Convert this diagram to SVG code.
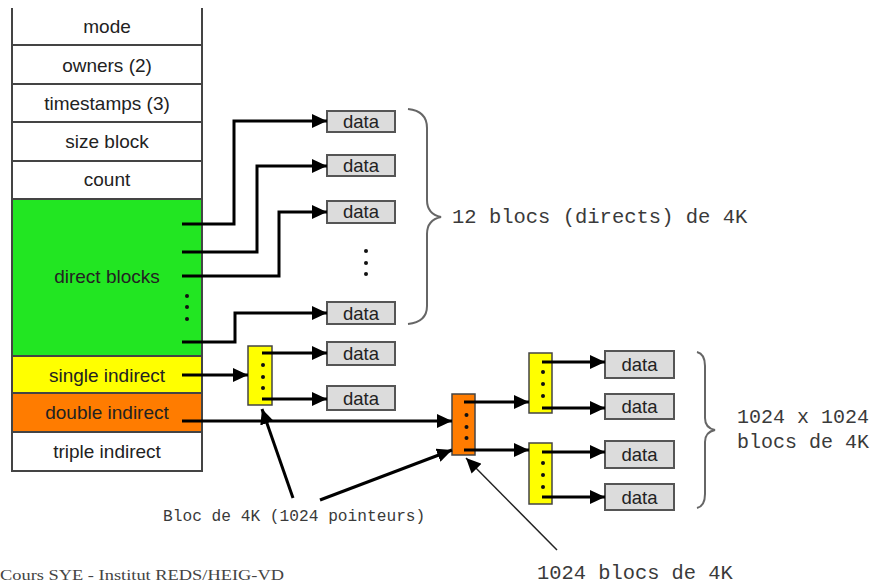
<svg xmlns="http://www.w3.org/2000/svg" width="876" height="584" viewBox="0 0 876 584">
<defs>
<style>
.cell{stroke:#444;stroke-width:2}
.lbl{font-family:"Liberation Sans",Arial,sans-serif;font-size:19px;fill:#222;text-anchor:middle}
.mono{font-family:"Liberation Mono","Courier New",monospace;fill:#3a3a3a}
.data{fill:#dcdcdc;stroke:#555;stroke-width:2}
.dtxt{font-family:"Liberation Sans",Arial,sans-serif;font-size:18.5px;fill:#222;text-anchor:middle}
.blk{stroke:#444;stroke-width:1.5}
.arr{fill:none;stroke:#000;stroke-width:3;marker-end:url(#ah)}
.thin{fill:none;stroke:#222;stroke-width:1.5;marker-end:url(#ah2)}
.brace{fill:none;stroke:#666;stroke-width:2}
.dot{fill:#111}
</style>
<marker id="ah" markerUnits="userSpaceOnUse" markerWidth="16" markerHeight="14" refX="15" refY="7" orient="auto"><path d="M0,0 L15,7 L0,14 z" fill="#000"/></marker>
<marker id="ah2" markerUnits="userSpaceOnUse" markerWidth="16" markerHeight="14" refX="15" refY="7" orient="auto"><path d="M0,0 L15,7 L0,14 z" fill="#000"/></marker>
</defs>
<rect width="876" height="584" fill="#fff"/>

<g id="inode">
<path d="M12,8 V45 M202,8 V45" stroke="#444" stroke-width="2"/>
<rect class="cell" x="12" y="45" width="190" height="39" fill="#fff"/>
<rect class="cell" x="12" y="84" width="190" height="38" fill="#fff"/>
<rect class="cell" x="12" y="122" width="190" height="39" fill="#fff"/>
<rect class="cell" x="12" y="161" width="190" height="38" fill="#fff"/>
<rect class="cell" x="12" y="199" width="190" height="157" fill="#22e622"/>
<rect class="cell" x="12" y="356" width="190" height="37" fill="#ffff00"/>
<rect class="cell" x="12" y="393" width="190" height="39" fill="#ff7c00"/>
<rect class="cell" x="12" y="432" width="190" height="39" fill="#fff"/>
<text class="lbl" x="107" y="33">mode</text>
<text class="lbl" x="107" y="72">owners (2)</text>
<text class="lbl" x="107" y="110">timestamps (3)</text>
<text class="lbl" x="107" y="148">size block</text>
<text class="lbl" x="107" y="186">count</text>
<text class="lbl" x="107" y="283">direct blocks</text>
<text class="lbl" x="107" y="382">single indirect</text>
<text class="lbl" x="107" y="419">double indirect</text>
<text class="lbl" x="107" y="458">triple indirect</text>
<circle class="dot" cx="187" cy="296" r="2"/>
<circle class="dot" cx="187" cy="307" r="2"/>
<circle class="dot" cx="187" cy="319" r="2"/>
</g>

<g id="direct-data">
<rect class="data" x="327" y="111" width="68" height="21"/><text class="dtxt" x="361" y="128">data</text>
<rect class="data" x="327" y="155" width="68" height="21"/><text class="dtxt" x="361" y="172">data</text>
<rect class="data" x="327" y="201" width="68" height="22"/><text class="dtxt" x="361" y="218">data</text>
<circle class="dot" cx="366" cy="251" r="2"/>
<circle class="dot" cx="366" cy="263" r="2"/>
<circle class="dot" cx="366" cy="274" r="2"/>
<rect class="data" x="327" y="302" width="68" height="22"/><text class="dtxt" x="361" y="320">data</text>
</g>

<g id="single-indirect-block">
<rect class="blk" x="248" y="346" width="24" height="59" fill="#ffff00"/>
<circle class="dot" cx="263" cy="365" r="2"/>
<circle class="dot" cx="263" cy="377" r="2"/>
<circle class="dot" cx="263" cy="388" r="2"/>
</g>
<g id="single-data">
<rect class="data" x="327" y="342" width="68" height="23"/><text class="dtxt" x="361" y="360">data</text>
<rect class="data" x="327" y="386" width="68" height="24"/><text class="dtxt" x="361" y="405">data</text>
</g>

<g id="double-indirect-block">
<rect class="blk" x="452" y="394" width="23" height="61" fill="#ff7c00"/>
<circle class="dot" cx="466.5" cy="415" r="2"/>
<circle class="dot" cx="466.5" cy="427" r="2"/>
<circle class="dot" cx="466.5" cy="438" r="2"/>
</g>
<g id="indirect-block-1">
<rect class="blk" x="529" y="353" width="23" height="60" fill="#ffff00"/>
<circle class="dot" cx="543" cy="372" r="2"/>
<circle class="dot" cx="543" cy="384" r="2"/>
<circle class="dot" cx="543" cy="396" r="2"/>
</g>
<g id="indirect-block-2">
<rect class="blk" x="529" y="443" width="23" height="61" fill="#ffff00"/>
<circle class="dot" cx="543" cy="463" r="2"/>
<circle class="dot" cx="543" cy="475" r="2"/>
<circle class="dot" cx="543" cy="487" r="2"/>
</g>
<g id="double-data">
<rect class="data" x="605" y="351" width="69" height="27"/><text class="dtxt" x="639.5" y="371">data</text>
<rect class="data" x="605" y="394" width="69" height="25"/><text class="dtxt" x="639.5" y="413">data</text>
<rect class="data" x="605" y="441" width="69" height="27"/><text class="dtxt" x="639.5" y="461">data</text>
<rect class="data" x="605" y="484" width="69" height="26"/><text class="dtxt" x="639.5" y="504">data</text>
</g>

<g id="connectors">
<polyline class="arr" points="182,224 234,224 234,121 327,121"/>
<polyline class="arr" points="182,252 257,252 257,166 327,166"/>
<polyline class="arr" points="182,276 279,276 279,212 327,212"/>
<polyline class="arr" points="182,342 235,342 235,313 327,313"/>
<line class="arr" x1="182" y1="375" x2="248" y2="375"/>
<line class="arr" x1="262" y1="353" x2="327" y2="353"/>
<line class="arr" x1="262" y1="399" x2="327" y2="399"/>
<line class="arr" x1="182" y1="421" x2="452" y2="421"/>
<line class="arr" x1="464" y1="402" x2="529" y2="402"/>
<line class="arr" x1="464" y1="450" x2="529" y2="450"/>
<line class="arr" x1="542" y1="362" x2="605" y2="362"/>
<line class="arr" x1="542" y1="408" x2="605" y2="408"/>
<line class="arr" x1="542" y1="452" x2="605" y2="452"/>
<line class="arr" x1="542" y1="497" x2="605" y2="497"/>
<line class="arr" x1="293" y1="498" x2="262" y2="409"/>
<line class="arr" x1="320" y1="500" x2="452" y2="450"/>
<line class="thin" x1="557" y1="550" x2="466" y2="458"/>
</g>

<g id="brace-direct">
<path class="brace" d="M408,109 Q427,111 427,128 V200 Q427,214 441,217 Q427,220 427,234 V306 Q427,322 408,324"/>
<text class="mono" x="452" y="223" font-size="20.5">12 blocs (directs) de 4K</text>
</g>
<g id="brace-double">
<path class="brace" d="M697,352 Q705,354 705,366 V418 Q705,428 715,430 Q705,432 705,442 V494 Q705,506 697,508"/>
<text class="mono" x="737" y="423" font-size="20">1024 x 1024</text>
<text class="mono" x="737" y="448" font-size="20">blocs de 4K</text>
</g>
<g id="labels">
<text class="mono" x="163" y="521" font-size="16.2">Bloc de 4K (1024 pointeurs)</text>
<text class="mono" x="537" y="579" font-size="20.4">1024 blocs de 4K</text>
<text x="0" y="580" font-family="'Liberation Serif','Times New Roman',serif" font-size="15" fill="#444" textLength="284" lengthAdjust="spacingAndGlyphs">Cours SYE - Institut REDS/HEIG-VD</text>
</g>
</svg>
